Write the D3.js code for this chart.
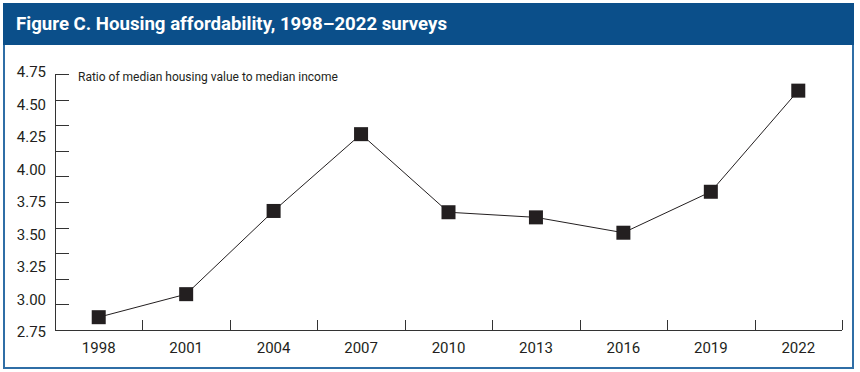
<!DOCTYPE html>
<html>
<head>
<meta charset="utf-8">
<script src="https://cdn.jsdelivr.net/npm/d3@7"></script>
<style>
    body { margin: 0; background: #fff; }
    svg { display: block; }
    .axis text { font-family: Roboto, "Liberation Sans", sans-serif; font-size: 15px; fill: #231f20; }
    .axis path, .axis line { stroke: #333; stroke-width: 1; shape-rendering: crispEdges; }
</style>
</head>
<body>
<div id="chart"></div>
<script>
// survey years and housing value / income ratio
const years = ["1998", "2001", "2004", "2007", "2010", "2013", "2016", "2019", "2022"];
const ratios = [2.85, 3.03, 3.68, 4.28, 3.67, 3.63, 3.51, 3.83, 4.62];
const yLabels = [2.75, 3.00, 3.25, 3.50, 3.75, 4.00, 4.25, 4.50, 4.75];
const yTicks = [2.75, 2.95, 3.15, 3.35, 3.55, 3.75, 3.95, 4.15, 4.35, 4.55, 4.75];

const title = "Figure C. Housing affordability, 1998\u20132022 surveys";
const note = "Ratio of median housing value to median income";

const W = 860, H = 372;
const margin = { top: 74, right: 18, bottom: 42, left: 55 };
const width = 842 - margin.left;
const height = 330 - margin.top;

const svg = d3.select("#chart").append("svg")
    .attr("width", W)
    .attr("height", H);

// frame + title bar
svg.append("rect")
    .attr("x", 4).attr("y", 4)
    .attr("width", 849).attr("height", 364)
    .attr("fill", "none")
    .attr("stroke", "#2f6ea6")
    .attr("stroke-width", 2);

svg.append("rect")
    .attr("x", 3).attr("y", 3)
    .attr("width", 851).attr("height", 42)
    .attr("fill", "#0b4f8a");

svg.append("text")
    .attr("x", 16).attr("y", 30)
    .attr("fill", "#fff")
    .style("font-family", "Roboto, 'Liberation Sans', sans-serif")
    .style("font-weight", "bold")
    .style("font-size", "18px")
    .attr("textLength", 431)
    .attr("lengthAdjust", "spacingAndGlyphs")
    .text(title);

const g = svg.append("g")
    .attr("transform", "translate(" + margin.left + "," + margin.top + ")");

// scales
const x = d3.scaleBand().domain(years).range([0, width]);
const y = d3.scaleLinear().domain([2.75, 4.75]).range([height, 0]);
// labels sit a touch outside the tick span in the original
const yLab = d3.scaleLinear().domain([2.75, 4.75]).range([height + 2, -2]);

// y ticks (inward, no labels)
g.append("g")
    .attr("class", "axis y-ticks")
    .call(d3.axisRight(y).tickValues(yTicks).tickSize(14).tickFormat(""))
    .call(a => a.select(".domain").remove());

g.append("line")
    .attr("class", "y-line")
    .attr("x1", 0).attr("x2", 0)
    .attr("y1", 0).attr("y2", height)
    .attr("stroke", "#333")
    .attr("shape-rendering", "crispEdges");

// y labels
g.append("g")
    .attr("class", "axis y-labels")
    .call(d3.axisLeft(yLab).tickValues(yLabels).tickSize(0).tickPadding(9).tickFormat(d3.format(".2f")))
    .call(a => a.select(".domain").remove());

// x axis: ticks at band boundaries pointing up
const bounds = years.map(d => x(d) + x.bandwidth());
g.append("g")
    .attr("class", "axis x-ticks")
    .attr("transform", "translate(0," + height + ")")
    .call(d3.axisTop(d3.scaleLinear().domain([0, width]).range([0, width])).tickValues(bounds).tickSize(10).tickFormat(""))
    .call(a => a.select(".domain").remove());

g.append("line")
    .attr("x1", 0).attr("x2", width)
    .attr("y1", height).attr("y2", height)
    .attr("stroke", "#333")
    .attr("shape-rendering", "crispEdges");

g.append("g")
    .attr("class", "axis x-labels")
    .attr("transform", "translate(0," + height + ")")
    .call(d3.axisBottom(x).tickSize(0).tickPadding(12))
    .call(a => a.select(".domain").remove());

// note
g.append("text")
    .attr("x", 23).attr("y", 7)
    .attr("fill", "#231f20")
    .style("font-family", "Roboto, 'Liberation Sans', sans-serif")
    .style("font-size", "12px")
    .text(note);

// line + markers
const pts = years.map((d, i) => ({ year: d, value: ratios[i] }));

g.append("path")
    .datum(pts)
    .attr("fill", "none")
    .attr("stroke", "#231f20")
    .attr("stroke-width", 1)
    .attr("d", d3.line()
        .x(d => x(d.year) + x.bandwidth() / 2)
        .y(d => y(d.value)));

g.selectAll(".marker")
    .data(pts)
    .enter().append("rect")
    .attr("class", "marker")
    .attr("x", d => x(d.year) + x.bandwidth() / 2 - 7)
    .attr("y", d => y(d.value) - 7)
    .attr("width", 14)
    .attr("height", 14)
    .attr("fill", "#231f20");
</script>
</body>
</html>
